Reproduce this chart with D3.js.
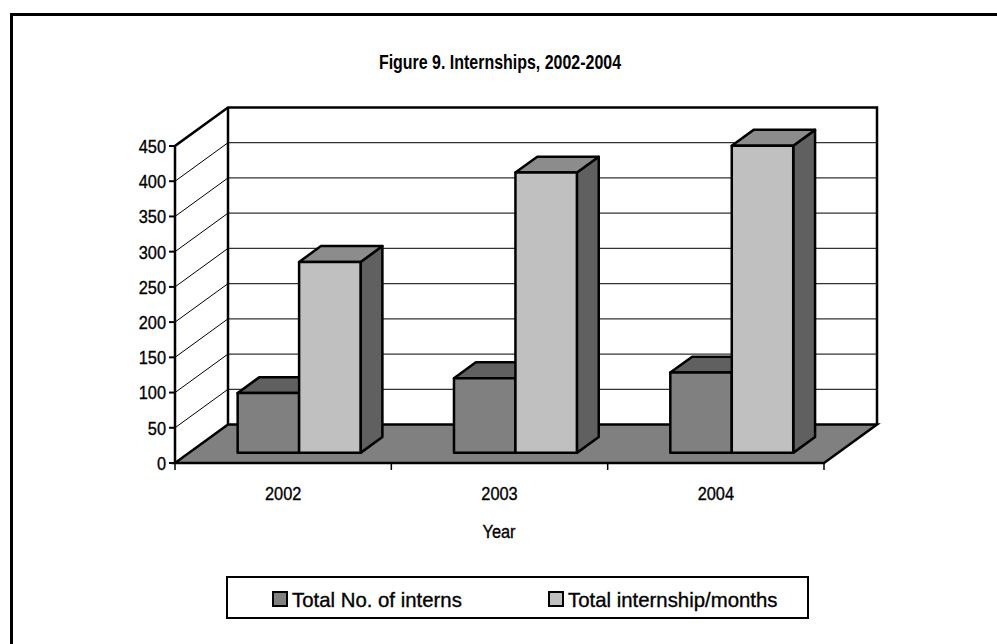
<!DOCTYPE html>
<html>
<head>
<meta charset="utf-8">
<script src="https://cdn.jsdelivr.net/npm/d3@7"></script>
<style>
  html, body { margin: 0; padding: 0; background: #fff; }
  svg { display: block; }
  text { font-family: "Liberation Sans", Arial, sans-serif; fill: #000; }
</style>
</head>
<body>
<svg id="chart" width="997" height="644"></svg>
<script>
// Internship figures by year
const categories = ["2002", "2003", "2004"];
const seriesNames = ["Total No. of interns", "Total internship/months"];
const internsValues = [85, 106, 114];
const monthsValues = [271, 398, 436];
const yTickValues = [0, 50, 100, 150, 200, 250, 300, 350, 400, 450];

const svg = d3.select("#chart");

// Squeeze a text node horizontally to give a condensed face
function condense(sel, factor) {
  sel.each(function () {
    const w = this.getComputedTextLength();
    d3.select(this).attr("textLength", w * factor).attr("lengthAdjust", "spacingAndGlyphs");
  });
  return sel;
}

// Frame around the whole figure
svg.append("rect")
  .attr("x", 11.5).attr("y", 14.5)
  .attr("width", 1000).attr("height", 700)
  .attr("fill", "none").attr("stroke", "#000").attr("stroke-width", 3);

// Title
condense(svg.append("text")
  .attr("x", 500).attr("y", 61).attr("dy", "0.36em")
  .attr("text-anchor", "middle")
  .attr("font-size", 21).attr("font-weight", "bold")
  .text("Figure 9. Internships, 2002-2004"), 0.76);

// 3D plot geometry: front plane plus an oblique depth offset
const depthDX = 53, depthDY = -38.5;
const x = d3.scaleBand().domain(categories).range([175, 824]);
const y = d3.scaleLinear().domain([0, 450]).range([463, 146]);
const P = (px, v, z) => [px + z * depthDX, y(v) + z * depthDY];
const poly = pts => "M" + pts.map(p => p.join(",")).join("L") + "Z";

const x0 = x.range()[0], x1 = x.range()[1];
const vMax = y.domain()[1];

// Back wall
svg.append("path")
  .attr("d", poly([P(x0, 0, 1), P(x1, 0, 1), P(x1, vMax, 1), P(x0, vMax, 1)]))
  .attr("fill", "#fff").attr("stroke", "none");

// Gridlines on back wall and side wall
const grid = svg.append("g");
yTickValues.filter(v => v > 0 && v < vMax).forEach(v => {
  const a = P(x0, v, 0), b = P(x0, v, 1), c = P(x1, v, 1);
  grid.append("path").attr("d", `M${a}L${b}`)
    .attr("stroke", "#000").attr("stroke-width", 1).attr("fill", "none");
  grid.append("path").attr("d", `M${b}L${c}`)
    .attr("stroke", "#333").attr("stroke-width", 1.2).attr("fill", "none");
});

// Wall outlines
svg.append("path")
  .attr("d", `M${P(x0, 0, 0)}L${P(x0, vMax, 0)}L${P(x0, vMax, 1)}L${P(x1, vMax, 1)}L${P(x1, 0, 1)}`)
  .attr("fill", "none").attr("stroke", "#000").attr("stroke-width", 2.5)
  .attr("stroke-linejoin", "miter");
svg.append("path")
  .attr("d", `M${P(x0, vMax, 1)}L${P(x0, 0, 1)}`)
  .attr("fill", "none").attr("stroke", "#000").attr("stroke-width", 2.5);

// Floor
svg.append("path")
  .attr("d", poly([P(x0, 0, 0), P(x1, 0, 0), P(x1, 0, 1), P(x0, 0, 1)]))
  .attr("fill", "#808080").attr("stroke", "#000").attr("stroke-width", 2.5)
  .attr("stroke-linejoin", "miter");

// Y axis (front left edge) with ticks
const yAxis = svg.append("g");
yAxis.append("line")
  .attr("x1", x0).attr("x2", x0).attr("y1", y(0)).attr("y2", y(vMax))
  .attr("stroke", "#000").attr("stroke-width", 2);
yTickValues.forEach(v => {
  yAxis.append("line")
    .attr("x1", x0 - 6).attr("x2", x0).attr("y1", y(v)).attr("y2", y(v))
    .attr("stroke", "#000").attr("stroke-width", 2);
  condense(yAxis.append("text")
    .attr("x", x0 - 9).attr("y", y(v)).attr("dy", "0.36em")
    .attr("text-anchor", "end").attr("font-size", 19)
    .attr("stroke", "#000").attr("stroke-width", 0.35)
    .text(v), 0.86);
});

// X axis ticks and labels along the front floor edge
const xAxis = svg.append("g");
const xTickPos = categories.map(c => x(c)).concat([x1]);
xTickPos.forEach(px => {
  xAxis.append("line")
    .attr("x1", px).attr("x2", px).attr("y1", y(0)).attr("y2", y(0) + 7)
    .attr("stroke", "#000").attr("stroke-width", 1.5);
});
categories.forEach(c => {
  condense(xAxis.append("text")
    .attr("x", x(c) + x.bandwidth() / 2).attr("y", 493).attr("dy", "0.36em")
    .attr("text-anchor", "middle").attr("font-size", 19)
    .attr("stroke", "#000").attr("stroke-width", 0.35)
    .text(c), 0.86);
});

// Axis title
condense(svg.append("text")
  .attr("x", 499).attr("y", 531).attr("dy", "0.36em")
  .attr("text-anchor", "middle").attr("font-size", 19)
  .attr("stroke", "#000").attr("stroke-width", 0.35)
  .text("Year"), 0.86);

// Columns
const inner = d3.scaleBand().domain(seriesNames)
  .range([0, x.bandwidth()]).paddingOuter(0.76).paddingInner(0);
const zFront = 0.263, zBack = 0.675;
const seriesColors = [
  { front: "#808080", top: "#606060", side: "#606060" },
  { front: "#c0c0c0", top: "#8c8c8c", side: "#606060" }
];
const seriesData = [internsValues, monthsValues];

const bars = svg.append("g");
categories.forEach((c, i) => {
  seriesNames.forEach((s, k) => {
    const v = seriesData[k][i];
    const left = x(c) + inner(s) + 2;
    const right = left + inner.bandwidth();
    const col = seriesColors[k];
    const g = bars.append("g")
      .attr("stroke", "#000").attr("stroke-width", 2.5).attr("stroke-linejoin", "round");
    // side face
    g.append("path")
      .attr("d", poly([P(right, 0, zFront), P(right, 0, zBack), P(right, v, zBack), P(right, v, zFront)]))
      .attr("fill", col.side);
    // top face
    g.append("path")
      .attr("d", poly([P(left, v, zFront), P(right, v, zFront), P(right, v, zBack), P(left, v, zBack)]))
      .attr("fill", col.top);
    // front face
    g.append("path")
      .attr("d", poly([P(left, 0, zFront), P(right, 0, zFront), P(right, v, zFront), P(left, v, zFront)]))
      .attr("fill", col.front);
  });
});

// Legend
const legend = svg.append("g");
legend.append("rect")
  .attr("x", 227).attr("y", 577).attr("width", 581).attr("height", 41)
  .attr("fill", "#fff").attr("stroke", "#000").attr("stroke-width", 2);
const legendX = [273, 549];
seriesNames.forEach((s, k) => {
  legend.append("rect")
    .attr("x", legendX[k]).attr("y", 592).attr("width", 14).attr("height", 14)
    .attr("fill", seriesColors[k].front).attr("stroke", "#000").attr("stroke-width", 2);
  condense(legend.append("text")
    .attr("x", legendX[k] + 19).attr("y", 599).attr("dy", "0.36em")
    .attr("font-size", 21)
    .attr("stroke", "#000").attr("stroke-width", 0.35)
    .text(s), 0.97);
});
</script>
</body>
</html>
